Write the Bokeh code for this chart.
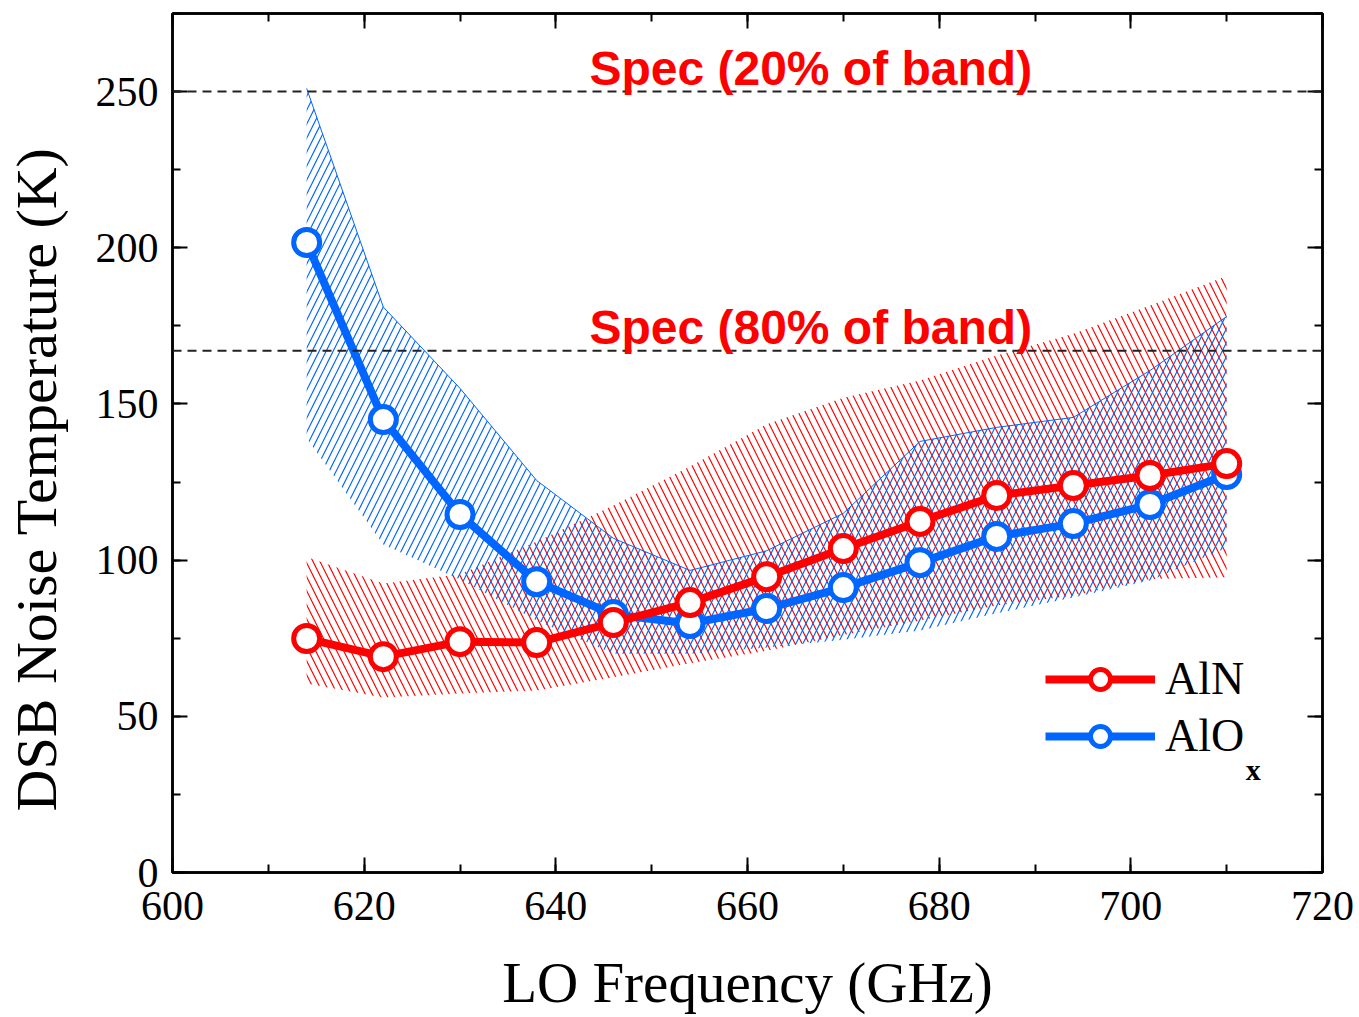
from bokeh.plotting import figure
from bokeh.models import (Range1d, LinearAxis, Span, Label, Legend, LegendItem,
                          FixedTicker)
from bokeh.embed import file_html
from bokeh.resources import INLINE

# ---- data ----
freq = [614, 622, 630, 638, 646, 654, 662, 670, 678, 686, 694, 702, 710]
aln = [74.9, 69.1, 73.9, 73.6, 80.0, 86.4, 94.7, 103.7, 112.4, 120.7, 123.9, 127.1, 130.9]
alox = [201.7, 145.0, 114.6, 93.1, 82.6, 79.7, 84.5, 91.2, 99.2, 107.6, 111.7, 117.8, 127.4]
aln_upper = [101.0, 92.5, 95.5, 106.0, 117.5, 130.0, 143.5, 152.0, 157.5, 165.5, 172.5, 181.5, 191.0]
aln_lower = [60.5, 56.0, 57.3, 58.3, 62.5, 67.0, 71.0, 76.0, 80.7, 85.5, 88.7, 94.0, 94.5]
alox_upper = [251.0, 181.0, 155.0, 125.5, 107.0, 96.7, 103.0, 115.0, 138.0, 142.5, 145.7, 160.7, 178.0]
alox_lower = [139.0, 105.0, 93.8, 80.7, 70.0, 70.0, 72.0, 74.5, 77.5, 83.0, 88.0, 93.5, 104.0]
spec_levels = [250, 167]
spec_labels = ["Spec (20% of band)", "Spec (80% of band)"]
x_ticks = [600, 620, 640, 660, 680, 700, 720]
y_ticks = [0, 50, 100, 150, 200, 250]

RED = "#ff0000"
BLUE = "#0066ff"
SERIF = "Liberation Serif"
NBSP = "\u00a0"

p = figure(width=1359, height=1017, output_backend="svg", toolbar_location=None,
           x_range=Range1d(600, 720), y_range=Range1d(0, 275),
           min_border_left=172, min_border_right=37, min_border_top=13,
           min_border_bottom=145, x_axis_location=None, y_axis_location=None)
p.grid.visible = False
p.outline_line_color = "black"
p.outline_line_width = 2.5
p.background_fill_color = "white"
p.border_fill_color = "white"


def style_axis(ax, ticks, minor, show_labels, label=None):
    ax.ticker = FixedTicker(ticks=ticks, minor_ticks=minor)
    ax.axis_line_width = 2.5
    ax.axis_line_color = "black"
    ax.major_tick_in = 15
    ax.major_tick_out = 0
    ax.minor_tick_in = 8
    ax.minor_tick_out = 0
    ax.major_tick_line_width = 2
    ax.minor_tick_line_width = 2
    ax.major_tick_line_color = "black"
    ax.minor_tick_line_color = "black"
    if show_labels:
        ax.major_label_text_font = SERIF
        ax.major_label_text_font_size = "42px"
        ax.major_label_text_color = "black"
    else:
        ax.major_label_overrides = {t: "" for t in ticks}
        ax.major_label_text_font_size = "1px"
        ax.major_label_standoff = 0
    if label:
        ax.axis_label = label
        ax.axis_label_text_font = SERIF
        ax.axis_label_text_font_style = "normal"
        ax.axis_label_text_color = "black"


x_minor = list(range(600, 721, 10))
y_minor = list(range(0, 276, 25))

xb = LinearAxis()
style_axis(xb, x_ticks, x_minor, True, "LO Frequency (GHz)")
xb.axis_label_text_font_size = "57px"
xb.major_label_standoff = 19
xb.axis_label_standoff = 28
p.add_layout(xb, "below")

yl = LinearAxis()
# trailing no-break spaces shift the visible title a little downward, as in the reference
style_axis(yl, y_ticks, y_minor, True, "DSB Noise Temperature (K)" + NBSP * 5)
yl.axis_label_text_font_size = "58px"
yl.major_label_standoff = 14
yl.axis_label_standoff = 24
p.add_layout(yl, "left")

xt = LinearAxis()
style_axis(xt, x_ticks, x_minor, False)
p.add_layout(xt, "above")

yr = LinearAxis()
style_axis(yr, y_ticks, y_minor, False)
p.add_layout(yr, "right")

# ---- hatched bands ----
p.varea(x=freq, y1=aln_lower, y2=aln_upper, fill_alpha=0,
        hatch_pattern="\\", hatch_color=RED, hatch_scale=14, hatch_weight=1.2)
p.varea(x=freq, y1=alox_lower, y2=alox_upper, fill_alpha=0,
        hatch_pattern="/", hatch_color=BLUE, hatch_scale=14, hatch_weight=1.2)
p.line(freq, alox_upper, line_color=BLUE, line_width=1)

# ---- spec lines ----
for lvl, txt in zip(spec_levels, spec_labels):
    p.add_layout(Span(location=lvl, dimension="width", line_color="#222222",
                      line_width=2, line_dash="9 6"))
    p.add_layout(Label(x=666.6, y=lvl + 7.5, text=txt, text_align="center",
                       text_baseline="alphabetic", text_color=RED,
                       text_font="Liberation Sans", text_font_style="bold",
                       text_font_size="48px"))

# ---- series ----
r_alox_l = p.line(freq, alox, line_color=BLUE, line_width=8)
r_alox_s = p.scatter(freq, alox, size=26, fill_color="white", line_color=BLUE, line_width=5)
r_aln_l = p.line(freq, aln, line_color=RED, line_width=8)
r_aln_s = p.scatter(freq, aln, size=26, fill_color="white", line_color=RED, line_width=5)

legend = Legend(items=[LegendItem(label="AlN", renderers=[r_aln_l, r_aln_s]),
                       LegendItem(label="AlO", renderers=[r_alox_l, r_alox_s])],
                location=(873, 110), orientation="vertical")
legend.glyph_width = 110
legend.glyph_height = 50
legend.label_height = 50
legend.label_standoff = 10
legend.spacing = 4
legend.padding = 0
legend.margin = 0
legend.label_text_font = SERIF
legend.label_text_font_size = "46px"
legend.label_text_color = "black"
legend.background_fill_alpha = 0
legend.border_line_alpha = 0
p.add_layout(legend, "center")

p.add_layout(Label(x=712.0, y=33.0, text="x", text_font=SERIF,
                   text_font_size="30px", text_font_style="bold",
                   text_color="black", text_baseline="alphabetic"))

open("out.html", "w").write(file_html(p, INLINE))
